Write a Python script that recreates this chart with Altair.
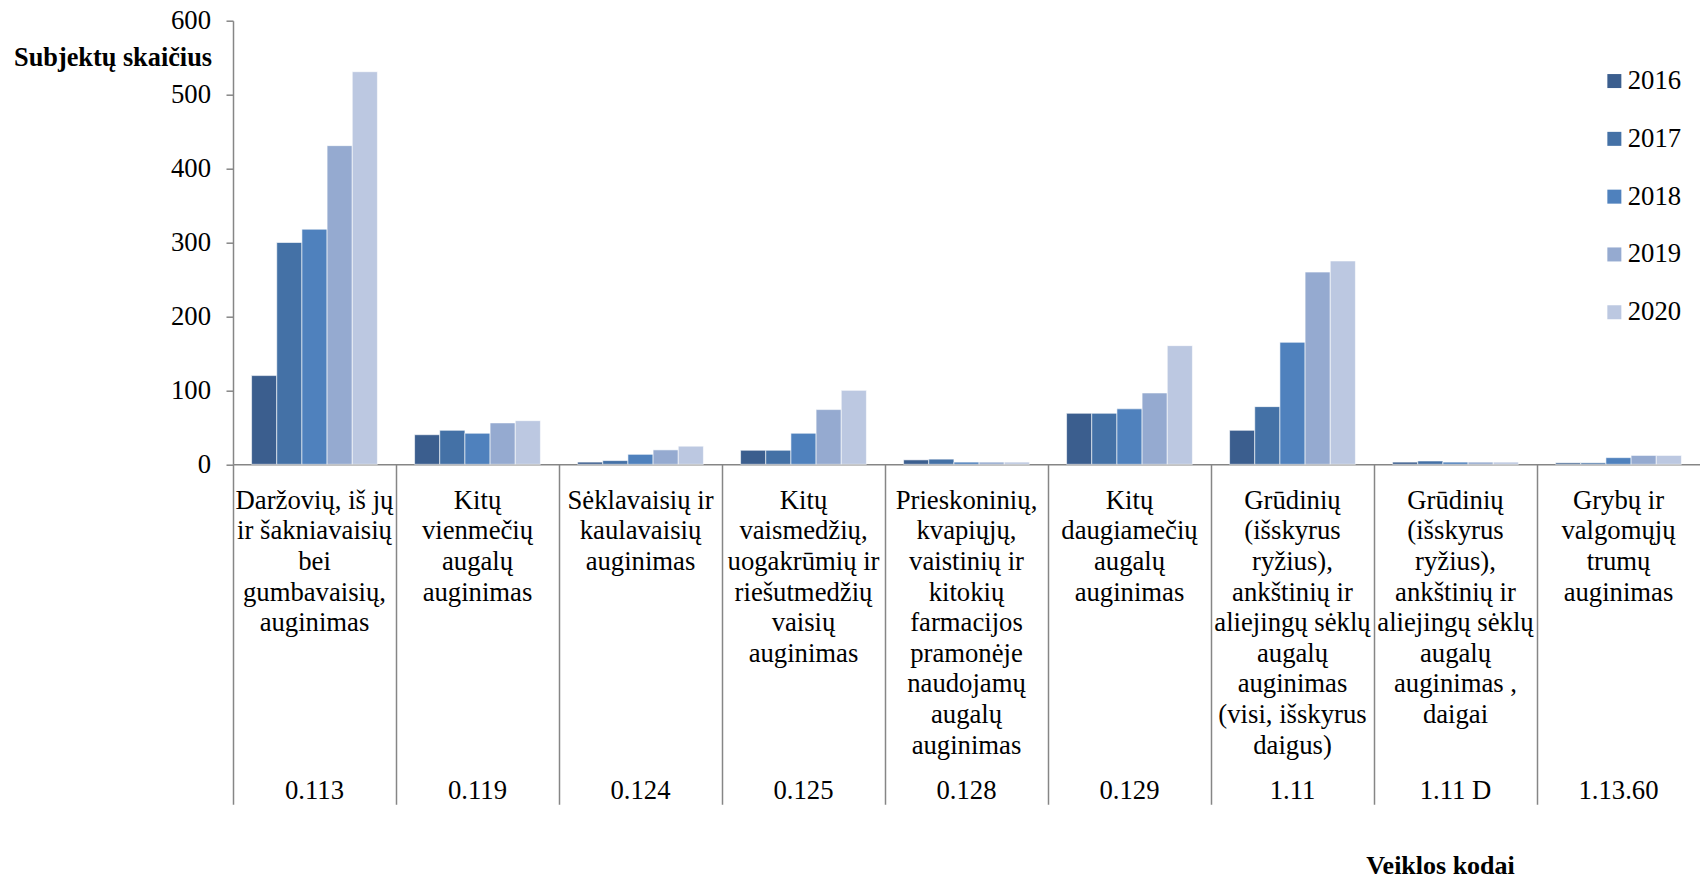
import json
import altair as alt
import pandas as pd

codes = ["0.113", "0.119", "0.124", "0.125", "0.128", "0.129", "1.11", "1.11 D", "1.13.60"]
labels = [
    "Daržovių, iš jų\nir šakniavaisių\nbei\ngumbavaisių,\nauginimas",
    "Kitų\nvienmečių\naugalų\nauginimas",
    "Sėklavaisių ir\nkaulavaisių\nauginimas",
    "Kitų\nvaismedžių,\nuogakrūmių ir\nriešutmedžių\nvaisių\nauginimas",
    "Prieskoninių,\nkvapiųjų,\nvaistinių ir\nkitokių\nfarmacijos\npramonėje\nnaudojamų\naugalų\nauginimas",
    "Kitų\ndaugiamečių\naugalų\nauginimas",
    "Grūdinių\n(išskyrus\nryžius),\nankštinių ir\naliejingų sėklų\naugalų\nauginimas\n(visi, išskyrus\ndaigus)",
    "Grūdinių\n(išskyrus\nryžius),\nankštinių ir\naliejingų sėklų\naugalų\nauginimas ,\ndaigai",
    "Grybų ir\nvalgomųjų\ntrumų\nauginimas",
]
years = ["2016", "2017", "2018", "2019", "2020"]
v2016 = [120, 40, 3, 19, 6, 69, 46, 3, 2]
v2017 = [300, 46, 5, 19, 7, 69, 78, 4.5, 2]
v2018 = [318, 42, 13.5, 42, 3, 75, 165, 3, 9]
v2019 = [431, 56, 19.5, 74, 3, 96.5, 260, 3, 12]
v2020 = [531, 59, 24.5, 100, 3, 160.5, 275, 3, 12]
colors = ["#3B5E8E", "#4471A6", "#4F81BD", "#95AAD0", "#BCC8E1"]

series = [v2016, v2017, v2018, v2019, v2020]
rows = []
for y, vals in zip(years, series):
    for c, v in zip(codes, vals):
        rows.append({"code": c, "year": y, "value": v})
df = pd.DataFrame(rows)
cats = pd.DataFrame({"code": codes})

FONT = "Liberation Serif"
FS = 26.7
AX = "#868686"
W = 1467
PAD_IN = 0.228
HALF_GAP = PAD_IN * (W / len(codes)) / 2

codes_js = json.dumps(codes, ensure_ascii=False)
labels_js = json.dumps([l.replace("\n", "|") for l in labels], ensure_ascii=False)
label_expr = (
    f"indexof({codes_js}, datum.value) < 0 ? '' : "
    f"split({labels_js}[indexof({codes_js}, datum.value)], '|')"
)

xscale = alt.Scale(domain=codes, paddingInner=PAD_IN, paddingOuter=PAD_IN / 2)

bars = alt.Chart(df).mark_bar(stroke="white", strokeWidth=0.6).encode(
    x=alt.X("code:N", scale=xscale, sort=codes,
            axis=alt.Axis(title=None, labelExpr=label_expr, labelAngle=0,
                          labelFont=FONT, labelFontSize=FS, labelLineHeight=30.6,
                          labelColor="black", labelPadding=23, ticks=False,
                          tickSize=0, domainColor=AX, domainWidth=1.5,
                          labelLimit=0, labelOverlap=False, labelBaseline="top",
                          labelAlign="center", orient="bottom")),
    xOffset=alt.XOffset("year:N", sort=years,
                        scale=alt.Scale(paddingInner=0, paddingOuter=0)),
    y=alt.Y("value:Q", scale=alt.Scale(domain=[0, 600], nice=False),
            axis=alt.Axis(values=[0, 100, 200, 300, 400, 500, 600],
                          title="Subjektų skaičius", titleAngle=0,
                          titleX=-219.5, titleY=37, titleAlign="left",
                          titleBaseline="middle", titleFont=FONT,
                          titleFontWeight="bold", titleFontSize=26.3,
                          titleColor="black", grid=False, tickSize=7,
                          tickColor=AX, tickWidth=1.5, domainColor=AX,
                          domainWidth=1.5, labelPadding=15.5, labelFont=FONT,
                          labelFontSize=FS, labelColor="black")),
    color=alt.Color("year:N", sort=years,
                    scale=alt.Scale(domain=years, range=colors),
                    legend=alt.Legend(title=None, orient="none", legendX=1368,
                                      legendY=47, symbolType="square",
                                      symbolSize=196, labelFont=FONT,
                                      labelFontSize=FS, labelColor="black",
                                      rowPadding=29.8, labelOffset=0,
                                      symbolStrokeWidth=0, symbolOpacity=1)),
)

separators = alt.Chart(cats).mark_rule(opacity=0).encode(
    x=alt.X("code:N", scale=xscale, sort=codes,
            axis=alt.Axis(orient="bottom", title=None, labels=False,
                          domain=False, ticks=True, tickSize=340,
                          bandPosition=0, tickOffset=-HALF_GAP,
                          tickColor=AX, tickWidth=1.5)),
)

code_axis = alt.Chart(cats).mark_rule(opacity=0).encode(
    x=alt.X("code:N", scale=xscale, sort=codes,
            axis=alt.Axis(orient="bottom", title="Veiklos kodai",
                          titleX=1207, titleY=401.5, titleAlign="center",
                          titleBaseline="middle", titleFont=FONT,
                          titleFontWeight="bold", titleFontSize=26,
                          titleColor="black", labelAngle=0, labelFont=FONT,
                          labelFontSize=FS, labelColor="black", ticks=False,
                          tickSize=0, domain=False, labelPadding=313,
                          labelBaseline="top", labelLimit=0, labelOverlap=False)),
)

chart = alt.layer(bars, separators, code_axis).resolve_axis(x="independent").properties(
    width=W,
    height=443.6,
    autosize=alt.AutoSizeParams(type="none"),
    padding={"left": 233, "top": 20.7, "right": 0, "bottom": 415.7},
    background="white",
).configure_view(stroke=None)

chart.save("out.html", embed_options={"renderer": "svg", "actions": False})
